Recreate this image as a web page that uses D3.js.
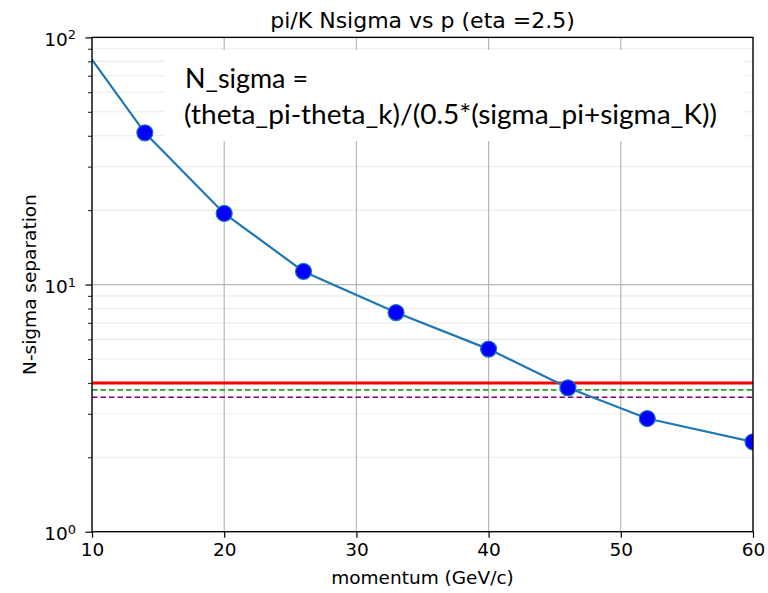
<!DOCTYPE html>
<html>
<head>
<meta charset="utf-8">
<script src="https://cdn.jsdelivr.net/npm/d3@7"></script>
<style>
  body { margin: 0; background: #fff; }
  svg { display: block; }
  text { font-family: "DejaVu Sans", sans-serif; fill: #000; }
  text.formula { font-family: Lato, "Open Sans", sans-serif; font-size: 26px; }
</style>
</head>
<body>
<script>
// momentum (GeV/c) and pi/K separation in units of sigma
var momentum = [10, 14, 20, 26, 33, 40, 46, 52, 60];
var nsigma   = [81.3, 41.1, 19.4, 11.3, 7.7, 5.48, 3.82, 2.87, 2.31];
// the first sample is drawn as line only, no marker
var markerMomentum = momentum.slice(1);
var markerNsigma   = nsigma.slice(1);

// separation thresholds
var thresholds = [
  { value: 4.0,  color: '#ff0000', width: 3,   dash: null },
  { value: 3.75, color: '#2ca02c', width: 1.6, dash: '5.5,3' },
  { value: 3.5,  color: '#800080', width: 1.6, dash: '5.5,3' }
];

var xTicks = [10, 20, 30, 40, 50, 60];
var yMajor = [1, 10, 100];
var yMinor = [2, 3, 4, 5, 6, 7, 8, 9, 20, 30, 40, 50, 60, 70, 80, 90];

var titleText = 'pi/K Nsigma vs p (eta =2.5)';
var xLabel = 'momentum (GeV/c)';
var yLabel = 'N-sigma separation';
var formulaLines = ['N_sigma =', '(theta_pi-theta_k)/(0.5*(sigma_pi+sigma_K))'];

var W = 768, H = 593;
var pLeft = 92, pRight = 753, pTop = 37.4, pBottom = 531.7;

var svg = d3.select('body').append('svg').attr('width', W).attr('height', H);

var x = d3.scaleLinear().domain([10, 60]).range([pLeft, pRight]);
var y = d3.scaleLog().domain([1, 100]).range([pBottom, pTop]);

svg.append('clipPath').attr('id', 'plot_clip')
  .append('rect').attr('x', pLeft).attr('y', pTop).attr('width', pRight - pLeft).attr('height', pBottom - pTop);

// Grid: minor y lines first, then major lines
var grid_g = svg.append('g');
grid_g.selectAll('.yminor').data(yMinor).enter().append('line')
  .attr('x1', pLeft).attr('x2', pRight)
  .attr('y1', function(d){ return y(d); }).attr('y2', function(d){ return y(d); })
  .style('stroke', '#ebebeb').style('stroke-width', 1.1);
grid_g.selectAll('.ymajor').data(yMajor).enter().append('line')
  .attr('x1', pLeft).attr('x2', pRight)
  .attr('y1', function(d){ return y(d); }).attr('y2', function(d){ return y(d); })
  .style('stroke', '#b8b8b8').style('stroke-width', 1.2);
grid_g.selectAll('.xmajor').data(xTicks).enter().append('line')
  .attr('y1', pTop).attr('y2', pBottom)
  .attr('x1', function(d){ return x(d); }).attr('x2', function(d){ return x(d); })
  .style('stroke', '#b8b8b8').style('stroke-width', 1.2);

// White box holding the formula, sits over the grid
svg.append('rect').attr('x', 164).attr('y', 50).attr('width', 580).attr('height', 91).style('fill', '#fff');
svg.append('text').attr('class', 'formula').attr('x', 185).attr('y', 88)
  .attr('textLength', 123).attr('lengthAdjust', 'spacingAndGlyphs').text(formulaLines[0]);
svg.append('text').attr('class', 'formula').attr('x', 184).attr('y', 124)
  .attr('textLength', 533).attr('lengthAdjust', 'spacingAndGlyphs').text(formulaLines[1]);

// Data and threshold lines, clipped to the axes
var plot_g = svg.append('g').attr('clip-path', 'url(#plot_clip)');

plot_g.selectAll('.thr').data(thresholds).enter().append('line')
  .attr('x1', pLeft).attr('x2', pRight)
  .attr('y1', function(d){ return y(d.value); }).attr('y2', function(d){ return y(d.value); })
  .style('stroke', function(d){ return d.color; })
  .style('stroke-width', function(d){ return d.width; })
  .style('stroke-dasharray', function(d){ return d.dash; });

var line = d3.line().x(function(d, i){ return x(momentum[i]); }).y(function(d){ return y(d); });
plot_g.append('path').datum(nsigma).attr('d', line)
  .style('fill', 'none').style('stroke', '#1f77b4').style('stroke-width', 2.2);

plot_g.selectAll('.pt').data(markerNsigma).enter().append('circle')
  .attr('cx', function(d, i){ return x(markerMomentum[i]); })
  .attr('cy', function(d){ return y(d); })
  .attr('r', 8)
  .style('fill', '#0000ff').style('stroke', '#1f77b4').style('stroke-width', 1.2);

// Axes
var xAxis = d3.axisBottom(x).tickValues(xTicks).tickSize(6).tickPadding(5).tickFormat(d3.format('d'));
var xg = svg.append('g').attr('transform', 'translate(0,' + pBottom + ')').call(xAxis);
xg.select('.domain').remove();
xg.selectAll('line').style('stroke', '#000').style('stroke-width', 1.2);
xg.selectAll('text').style('font-family', '"DejaVu Sans", sans-serif').style('font-size', '18.5px').attr('dy', '0.72em');

var yMinorAxis = d3.axisLeft(y).tickValues(yMinor).tickSize(4).tickFormat('');
var ymg = svg.append('g').attr('transform', 'translate(' + pLeft + ',0)').call(yMinorAxis);
ymg.select('.domain').remove();
ymg.selectAll('line').style('stroke', '#000').style('stroke-width', 0.9);

var yAxis = d3.axisLeft(y).tickValues(yMajor).tickSize(6.5).tickFormat('');
var yg = svg.append('g').attr('transform', 'translate(' + pLeft + ',0)').call(yAxis);
yg.select('.domain').remove();
yg.selectAll('line').style('stroke', '#000').style('stroke-width', 1.2);

// 10^n labels with superscript exponent
yMajor.forEach(function(v){
  var t = svg.append('text').attr('x', pLeft - 16).attr('y', y(v) + 8.5)
    .style('text-anchor', 'end').style('font-size', '18.5px');
  t.append('tspan').text('10');
  t.append('tspan').attr('dy', -6.5).style('font-size', '13px').text(String(Math.round(Math.log10(v))));
});

// Spines
svg.append('rect').attr('x', pLeft).attr('y', pTop).attr('width', pRight - pLeft).attr('height', pBottom - pTop)
  .style('fill', 'none').style('stroke', '#000').style('stroke-width', 1.3);

// Title and axis labels
svg.append('text').attr('x', (pLeft + pRight) / 2).attr('y', 28).style('text-anchor', 'middle')
  .style('font-size', '22px').text(titleText);
svg.append('text').attr('x', (pLeft + pRight) / 2).attr('y', 584).style('text-anchor', 'middle')
  .style('font-size', '18.5px').text(xLabel);
svg.append('text').attr('transform', 'translate(35.5,' + ((pTop + pBottom) / 2) + ') rotate(-90)')
  .style('text-anchor', 'middle').style('font-size', '18.5px').text(yLabel);
</script>
</body>
</html>
